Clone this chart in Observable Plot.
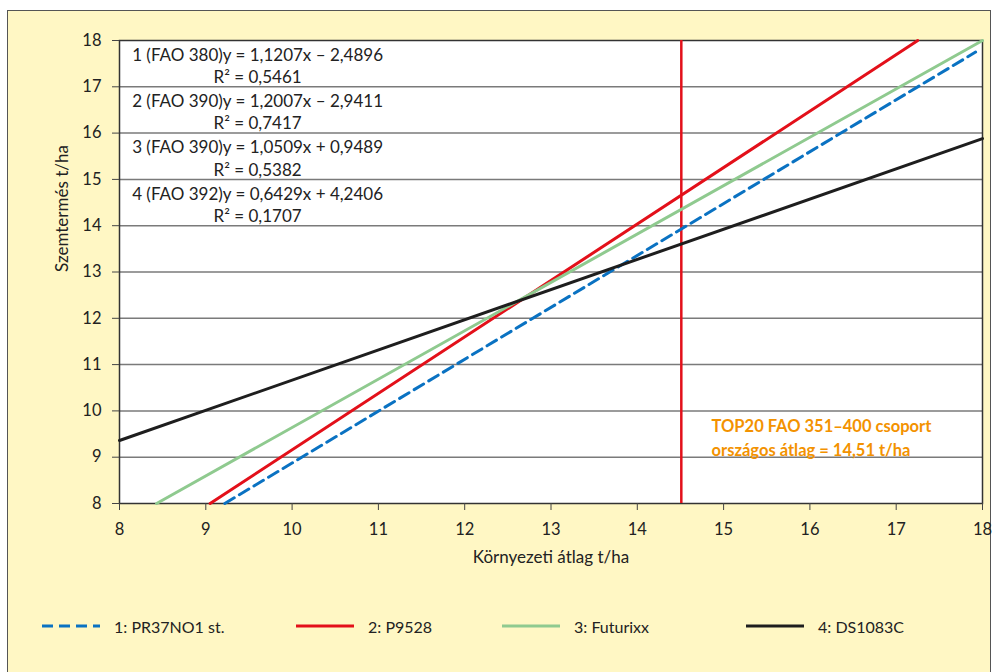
<!DOCTYPE html>
<html>
<head>
<meta charset="utf-8">
<script src="https://cdn.jsdelivr.net/npm/d3@7"></script>
<script src="https://cdn.jsdelivr.net/npm/@observablehq/plot@0.6"></script>
<style>
  html, body { margin: 0; padding: 0; width: 995px; height: 672px; overflow: hidden; background: #ffffff; }
  #frame { position: absolute; left: 7px; top: 10px; width: 984px; height: 680px; background: #fff7c4; border: 1.5px solid #555; box-sizing: border-box; }
  #chart { position: absolute; left: 0; top: 0; }
  #legend { position: absolute; left: 0; top: 614px; width: 995px; height: 24px; font-family: "Lato", "Liberation Sans", sans-serif; font-size: 16px; color: #222; }
  .item { position: absolute; top: 0; display: flex; align-items: center; height: 24px; }
  .item svg { margin-right: 14px; }
</style>
</head>
<body>
<div id="frame"></div>
<div id="chart"></div>
<div id="legend"></div>
<script>
// ---- data ----
const seriesNames = ["1: PR37NO1 st.", "2: P9528", "3: Futurixx", "4: DS1083C"];
const seriesColors = ["#0a72c2", "#e3101a", "#8fca8f", "#1e1e1e"];
const seriesDash = ["11,6", null, null, null];
// endpoints of each regression line (x = Környezeti átlag, y = Szemtermés)
const line1X = [9.22, 17.92];  const line1Y = [8.0, 17.75];
const line2X = [9.05, 17.25];  const line2Y = [8.0, 18.0];
const line3X = [8.43, 18.0];   const line3Y = [8.0, 18.0];
const line4X = [8.0, 18.0];    const line4Y = [9.36, 15.88];
const nationalAverage = 14.51;
const equations = [
  "1 (FAO 380)y = 1,1207x – 2,4896",
  "2 (FAO 390)y = 1,2007x – 2,9411",
  "3 (FAO 390)y = 1,0509x + 0,9489",
  "4 (FAO 392)y = 0,6429x + 4,2406"
];
const r2Labels = ["R² = 0,5461", "R² = 0,7417", "R² = 0,5382", "R² = 0,1707"];
const noteLines = ["TOP20 FAO 351–400 csoport", "országos átlag = 14,51 t/ha"];
const xTicks = [8, 9, 10, 11, 12, 13, 14, 15, 16, 17, 18];
const yTicks = [8, 9, 10, 11, 12, 13, 14, 15, 16, 17, 18];
const xLabel = "Környezeti átlag t/ha";
const yLabel = "Szemtermés t/ha";

// ---- build tables ----
const lineXs = [line1X, line2X, line3X, line4X];
const lineYs = [line1Y, line2Y, line3Y, line4Y];
const lineData = lineXs.map((xs, i) => xs.map((x, j) => ({x, y: lineYs[i][j], s: i})));

const eqText = [];
equations.forEach((t, i) => {
  eqText.push({x: 9.6, y: 17.68 - i, t});
  eqText.push({x: 9.6, y: 17.2 - i, t: r2Labels[i]});
});
const noteText = noteLines.map((t, i) => ({x: 14.86, y: 9.66 - 0.52 * i, t}));

const font = "Lato, 'Liberation Sans', sans-serif";

const chart = Plot.plot({
  width: 995,
  height: 590,
  marginTop: 40,
  marginLeft: 119,
  marginRight: 13,
  marginBottom: 87,
  style: {background: "transparent", fontFamily: font, fontSize: "16px", color: "#222"},
  x: {domain: [8, 18]},
  y: {domain: [8, 18]},
  marks: [
    Plot.frame({fill: "white", stroke: "none"}),
    Plot.ruleY(yTicks.slice(1, -1), {stroke: "#7a7a7a", strokeWidth: 1.5}),
    Plot.frame({stroke: "#333", strokeWidth: 1.5}),
    Plot.axisX({ticks: xTicks, tickSize: 7, tickPadding: 13, fontSize: 16.5, label: null, stroke: "#444"}),
    Plot.axisY({ticks: yTicks, tickSize: 7, tickPadding: 11, fontSize: 16.5, label: null, stroke: "#444"}),
    Plot.text([xLabel], {frameAnchor: "bottom", dy: 59, fontSize: 17, fill: "#222"}),
    Plot.text([yLabel], {frameAnchor: "left", dx: -57, rotate: -90, fontSize: 17, fill: "#222"}),
    Plot.text(eqText, {x: "x", y: "y", text: "t", fontSize: 17, fill: "#222"}),
    Plot.text(noteText, {x: "x", y: "y", text: "t", textAnchor: "start", fontSize: 16.5, fontWeight: "bold", fill: "#f39200"}),
    Plot.ruleX([nationalAverage], {stroke: "#e3101a", strokeWidth: 2.5}),
    ...lineData.map((d, i) => Plot.line(d, {x: "x", y: "y", stroke: seriesColors[i], strokeWidth: 3, strokeDasharray: seriesDash[i] ?? undefined}))
  ]
});
document.getElementById("chart").appendChild(chart);

// ---- legend ----
const legendX = [42, 296, 502, 746];
const legend = document.getElementById("legend");
seriesNames.forEach((name, i) => {
  const div = document.createElement("div");
  div.className = "item";
  div.style.left = legendX[i] + "px";
  const dash = seriesDash[i] ? `stroke-dasharray="${seriesDash[i]}"` : "";
  div.innerHTML = `<svg width="58" height="6"><line x1="0" y1="3" x2="58" y2="3" stroke="${seriesColors[i]}" stroke-width="3" ${dash}/></svg><span>${name}</span>`;
  legend.appendChild(div);
});
</script>
</body>
</html>
